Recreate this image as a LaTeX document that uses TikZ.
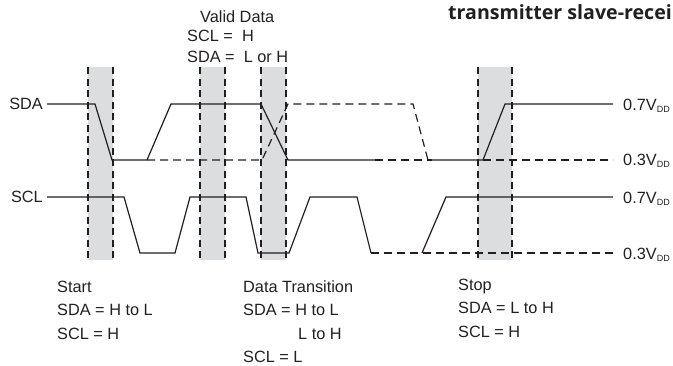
\documentclass[tikz,border=0pt]{standalone}
\usepackage{fontspec}
\setmainfont{Liberation Sans}
\newfontfamily\headfont{Open Sans}
\definecolor{bandgray}{HTML}{DCDDDF}
\definecolor{inkline}{HTML}{231F20}
\newcommand{\vdd}{V\kern0.2pt\raisebox{-2.6pt}{\fontsize{9}{9}\selectfont DD}}
\tikzset{
  band/.style={
    fill=bandgray,
    draw=none
  },
  bandedge/.style={
    draw=inkline,
    line width=1.2pt,
    dash pattern=on 7pt off 4.5pt
  },
  wave/.style={
    draw=inkline,
    line width=1.2pt,
    line join=miter
  },
  wavedash/.style={
    wave,
    dash pattern=on 8pt off 5pt
  },
  lbl/.style={
    font=\fontsize{16.3}{20}\selectfont,
    text=inkline,
    inner sep=0pt
  },
  head/.style={
    font=\headfont\bfseries\fontsize{19.6}{22}\selectfont,
    text=inkline,
    inner sep=0pt
  }
}
\begin{document}
\begin{tikzpicture}[x=1pt, y=-1pt]
\useasboundingbox (0,0) rectangle (673,365);

% shaded sampling windows
\foreach \xa/\xb in {88/113, 200/225, 261/286, 478/512} {
  \fill[band] (\xa,67) rectangle (\xb,260);
  \draw[bandedge] (\xa,67) -- (\xa,260);
  \draw[bandedge] (\xb,67) -- (\xb,260);
}

% SDA
\draw[wave] (47,104) -- (95,104) -- (112,160) -- (147,160) -- (171,104)
  -- (261,104) -- (288,160) -- (375,160);
\draw[wave] (432,160) -- (483,160) -- (505,104) -- (613,104);
\draw[wavedash] (147,160) -- (262,160) -- (288,104) -- (413,104) -- (428,160);
\draw[wavedash] (375,160) -- (432,160);
\draw[wavedash] (483,160) -- (613,160);

% SCL
\draw[wave] (47,197) -- (124,197) -- (140,253) -- (175,253) -- (190,197)
  -- (246,197) -- (258,253) -- (289,253) -- (310,197) -- (357,197) -- (371,253);
\draw[wave] (422,253) -- (446,197) -- (613,197);
\draw[wavedash] (371,253) -- (613,253);

% signal names and levels
\node[lbl, anchor=east] (sda) at (43,104) {SDA};
\node[lbl, anchor=east] (scl) at (43,197) {SCL};
\node[lbl, anchor=base west] (sdahi) at (623,110) {0.7\vdd};
\node[lbl, anchor=base west] (sdalo) at (623,165) {0.3\vdd};
\node[lbl, anchor=base west] (sclhi) at (623,203) {0.7\vdd};
\node[lbl, anchor=base west] (scllo) at (623,259) {0.3\vdd};

% headings
\node[head, anchor=base west] (title) at (448,19) {transmitter slave-recei};
\node[lbl, anchor=base west] (valid) at (200,22) {Valid Data};
\node[lbl, anchor=base west] (validscl) at (187,41) {SCL =\ \ H};
\node[lbl, anchor=base west] (validsda) at (187,62) {SDA =\ \ L or H};

% conditions
\node[lbl, anchor=base west] (start) at (57,292) {Start};
\node[lbl, anchor=base west] (startsda) at (57,315) {SDA = H to L};
\node[lbl, anchor=base west] (startscl) at (57,339) {SCL = H};

\node[lbl, anchor=base west] (trans) at (243,292) {Data Transition};
\node[lbl, anchor=base west] (transsda) at (243,315) {SDA = H to L};
\node[lbl, anchor=base west] (transup) at (298,339) {L to H};
\node[lbl, anchor=base west] (transscl) at (243,362) {SCL = L};

\node[lbl, anchor=base west] (stop) at (458,290) {Stop};
\node[lbl, anchor=base west] (stopsda) at (458,313) {SDA = L to H};
\node[lbl, anchor=base west] (stopscl) at (458,337) {SCL = H};
\end{tikzpicture}
\end{document}
